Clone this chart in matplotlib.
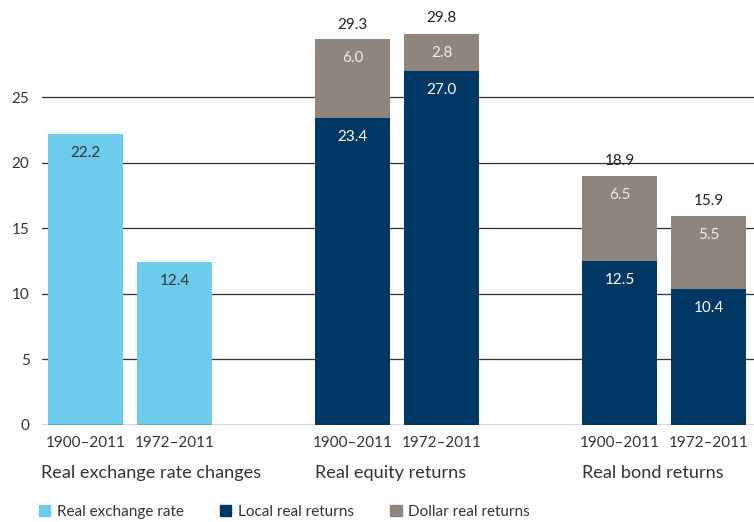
import matplotlib
matplotlib.use("Agg")
import matplotlib.pyplot as plt
from matplotlib.patches import Patch

plt.rcParams['font.family'] = ['Lato', 'DejaVu Sans']

periods = ["1900–2011", "1972–2011"]
groups = ["Real exchange rate changes", "Real equity returns", "Real bond returns"]
fx_values = [22.2, 12.4]
equity_local = [23.4, 27.0]
equity_dollar = [6.0, 2.8]
equity_total = [29.3, 29.8]
bond_local = [12.5, 10.4]
bond_dollar = [6.5, 5.5]
bond_total = [18.9, 15.9]
yticks = [0, 5, 10, 15, 20, 25]
legend_labels = ["Real exchange rate", "Local real returns", "Dollar real returns"]

c_fx = "#6DCBEC"
c_local = "#003865"
c_dollar = "#8F857D"
txt = "#333333"

fig = plt.figure(figsize=(7.54, 5.22), dpi=100)
ax = fig.add_axes([42/754, 1-425/522, 1-42/754, 425/522])

w = 0.84
fx_x = [0, 1]
eq_x = [3, 4]
bd_x = [6, 7]

ax.bar(fx_x, fx_values, width=w, color=c_fx, zorder=3)
ax.bar(eq_x, equity_local, width=w, color=c_local, zorder=3)
ax.bar(eq_x, equity_dollar, width=w, bottom=equity_local, color=c_dollar, zorder=3)
ax.bar(bd_x, bond_local, width=w, color=c_local, zorder=3)
ax.bar(bd_x, bond_dollar, width=w, bottom=bond_local, color=c_dollar, zorder=3)

fs = 11
off = 1.45
for x, v in zip(fx_x, fx_values):
    ax.text(x, v - off, f"{v:.1f}", ha="center", va="center", color=txt, fontsize=fs, zorder=4)
for xs, loc, dol, tot in [(eq_x, equity_local, equity_dollar, equity_total),
                          (bd_x, bond_local, bond_dollar, bond_total)]:
    for x, l, d, t in zip(xs, loc, dol, tot):
        ax.text(x, l - off, f"{l:.1f}", ha="center", va="center", color="white", fontsize=fs, zorder=4)
        ax.text(x, l + d - off, f"{d:.1f}", ha="center", va="center", color="#eeeeee", fontsize=fs, zorder=4)
        ax.text(x, t + 1.2, f"{t:.1f}", ha="center", va="center", color="#222222", fontsize=fs, zorder=4)

ax.set_xlim(-0.49, 7.51)
ax.set_ylim(0, 32.4)
ax.set_yticks(yticks)
ax.set_yticklabels([str(t) for t in yticks], fontsize=fs, color=txt)
ax.tick_params(axis="y", length=0, pad=9)
for y in yticks[1:]:
    ax.axhline(y, color="#333333", linewidth=0.9, zorder=1)
ax.axhline(0, color="#333333", linewidth=1.0, zorder=5)

xt = fx_x + eq_x + bd_x
ax.set_xticks(xt)
ax.set_xticklabels(periods * 3, fontsize=fs, color=txt)
ax.tick_params(axis="x", length=0, pad=8)
for s in ax.spines.values():
    s.set_visible(False)

for gx, g in zip([fx_x[0] - 0.5, eq_x[0] - w / 2, bd_x[0] - w / 2], groups):
    ax.text(gx, -3.65, g, ha="left", va="center", fontsize=13.1, color=txt, transform=ax.transData)

handles = [Patch(color=c) for c in [c_fx, c_local, c_dollar]]
fig.legend(handles, legend_labels, loc="center left", bbox_to_anchor=(25/754, 1-512/522),
           ncol=3, frameon=False, fontsize=fs, handlelength=0.75, handleheight=0.75,
           handletextpad=0.45, columnspacing=2.35, labelcolor=txt)

fig.savefig("out.png", dpi=100)
